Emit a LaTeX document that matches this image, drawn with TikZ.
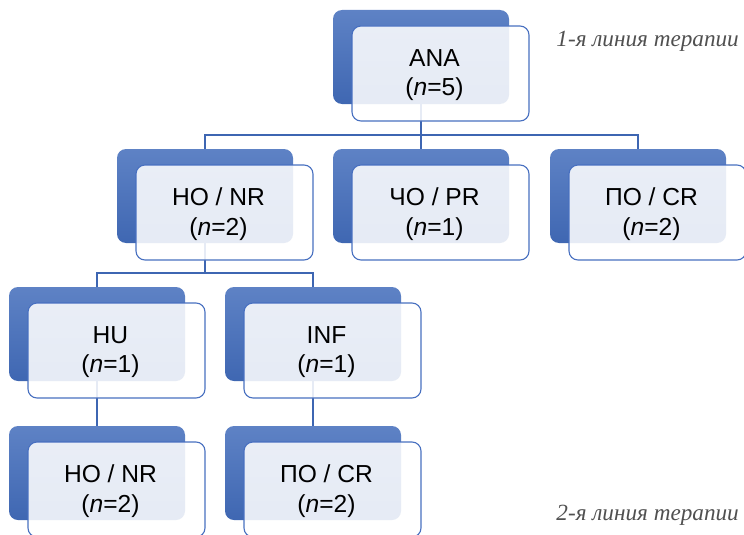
\documentclass[tikz,border=0pt]{standalone}
\usepackage{fontspec}
\setmainfont{Liberation Sans}
\newfontfamily\labfont{Liberation Serif}
\usetikzlibrary{calc}
\definecolor{connc}{RGB}{62,102,178}
\definecolor{darktop}{RGB}{94,130,197}
\definecolor{darkbot}{RGB}{63,103,178}
\definecolor{lborder}{RGB}{72,112,192}
\definecolor{labgray}{RGB}{80,80,80}
\tikzset{
 darkbox/.style={anchor=north west, minimum width=176pt, minimum height=94pt, rounded corners=9pt, top color=darktop, bottom color=darkbot, draw=none, inner sep=0pt, outer sep=0pt},
 lightbox/.style={anchor=north west, minimum width=177pt, minimum height=95pt, rounded corners=9pt, draw=lborder, line width=1.1pt, fill=white, fill opacity=0.87, inner sep=0pt, outer sep=0pt},
 connline/.style={draw=connc, line width=1.5pt},
 boxtext/.style={align=center, font=\fontsize{24.6}{29.5}\selectfont, text=black, inner sep=0pt},
 lab/.style={anchor=base east, font=\labfont\itshape\fontsize{23.2}{27}\selectfont, text=labgray, inner sep=0pt}
}
\newcommand\darkat[3]{\node[darkbox] (#1d) at (#2,#3) {};}
\newcommand\lightat[4]{%
 \node[lightbox] (#1l) at ($(#2,#3)+(19,16)$) {};
 \node[boxtext] (#1t) at ($(#2,#3)+(101.5,65)$) {#4};}
\begin{document}
\begin{tikzpicture}[x=1pt,y=-1pt]
\useasboundingbox (0,0) rectangle (744,535);
% dark back boxes
\darkat{A}{333}{10}
\darkat{Ba}{117}{149}
\darkat{Bb}{333}{149}
\darkat{Bc}{550}{149}
\darkat{Ca}{9}{287}
\darkat{Cb}{225}{287}
\darkat{Da}{9}{426}
\darkat{Db}{225}{426}
% connectors
\coordinate (busA) at ($(Ad.south)+(0,31)$);
\draw[connline] (Ad.south) -- (busA) -- (Bbd.north);
\draw[connline] (Bad.north) |- (busA) -| (Bcd.north);
\coordinate (busB) at ($(Bad.south)+(0,30)$);
\draw[connline] (Bad.south) -- (busB);
\draw[connline] (Cad.north) |- (busB) -| (Cbd.north);
\draw[connline] (Cad.south) -- (Dad.north);
\draw[connline] (Cbd.south) -- (Dbd.north);
% light front boxes with text
\lightat{A}{333}{10}{ANA\\(\textit{n}=5)}
\lightat{Ba}{117}{149}{НО / NR\\(\textit{n}=2)}
\lightat{Bb}{333}{149}{ЧО / PR\\(\textit{n}=1)}
\lightat{Bc}{550}{149}{ПО / CR\\(\textit{n}=2)}
\lightat{Ca}{9}{287}{HU\\(\textit{n}=1)}
\lightat{Cb}{225}{287}{INF\\(\textit{n}=1)}
\lightat{Da}{9}{426}{НО / NR\\(\textit{n}=2)}
\lightat{Db}{225}{426}{ПО / CR\\(\textit{n}=2)}
% side labels
\node[lab] (lab1) at (739,46.7) {1-я линия терапии};
\node[lab] (lab2) at (739,520) {2-я линия терапии};
\end{tikzpicture}
\end{document}
